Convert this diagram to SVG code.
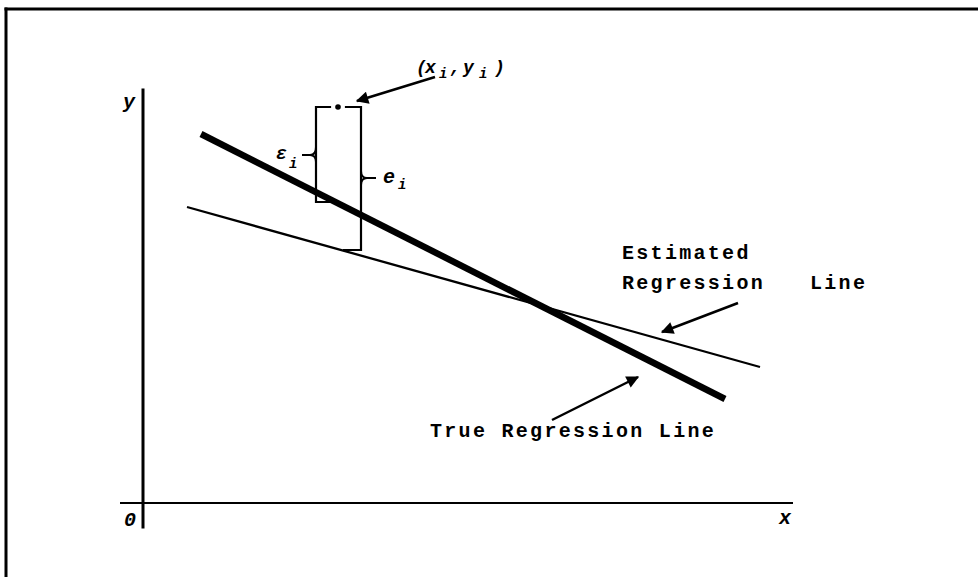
<svg xmlns="http://www.w3.org/2000/svg" width="978" height="577" viewBox="0 0 978 577">
<defs>
<style>
.lbl{font-family:"Liberation Mono","Courier New",monospace;font-weight:bold;font-size:20px;letter-spacing:2.3px;fill:#000}
.math{font-family:"Liberation Mono","Courier New",monospace;font-weight:bold;font-style:italic;fill:#000}
.ln{stroke:#000;fill:none;stroke-linecap:square}
.arr{stroke:#000;stroke-width:2.5;fill:none;marker-end:url(#ah)}
</style>
<marker id="ah" viewBox="0 0 10 10" refX="9" refY="5" markerWidth="5.5" markerHeight="5" orient="auto" markerUnits="strokeWidth">
<path d="M0,0 L10,5 L0,10 z" fill="#000"/>
</marker>
</defs>
<rect width="978" height="577" fill="#fff"/>
<g id="frame">
<line class="ln" x1="6" y1="9" x2="978" y2="9" stroke-width="3"/>
<line class="ln" x1="6" y1="9" x2="6" y2="577" stroke-width="3"/>
</g>
<g id="axes">
<line class="ln" x1="143" y1="90" x2="143" y2="527" stroke-width="3"/>
<line class="ln" x1="121" y1="503" x2="792" y2="503" stroke-width="2"/>
<text class="math" x="123" y="108" font-size="20">y</text>
<text class="math" x="124" y="526" font-size="20">0</text>
<text class="math" x="779" y="524" font-size="20">x</text>
</g>
<g id="true-line">
<line x1="201" y1="134" x2="725" y2="399" stroke="#000" stroke-width="6.5"/>
</g>
<g id="estimated-line">
<line x1="187" y1="207" x2="760" y2="367" stroke="#000" stroke-width="2.3"/>
</g>
<g id="point">
<circle cx="338" cy="107" r="2.8" fill="#000"/>
<text class="math" font-size="18" y="73"><tspan x="416">(</tspan><tspan x="425">x</tspan><tspan x="439" dy="5" font-size="14">i</tspan><tspan x="450" dy="-5">,</tspan><tspan x="463">y</tspan><tspan x="479" dy="5" font-size="14">i</tspan><tspan x="494" dy="-5">)</tspan></text>
</g>
<g id="epsilon-bracket">
<path class="ln" stroke-width="2.2" d="M330,107 H316 V202 H330"/>
<path class="ln" stroke-width="2" d="M316,148 Q316,155 310,155 H303 M310,155 Q316,155 316,162"/>
<text class="math" font-size="18" x="276" y="159">ε</text>
<text class="math" font-size="14" x="289" y="168">i</text>
</g>
<g id="e-bracket">
<path class="ln" stroke-width="2.2" d="M346,107 H361 V250 H344"/>
<path class="ln" stroke-width="2" d="M361,171 Q361,178 367,178 H375 M367,178 Q361,178 361,185"/>
<text class="math" font-size="20" x="383" y="183">e</text>
<text class="math" font-size="14" x="398" y="189">i</text>
</g>
<g id="labels">
<text class="lbl" x="622" y="259">Estimated</text>
<text class="lbl" x="622" y="289">Regression <tspan x="810">Line</tspan></text>
<text class="lbl" x="430" y="437" letter-spacing="1.8">True Regression Line</text>
</g>
<g id="connectors">
<line class="arr" x1="435" y1="77" x2="357" y2="101"/>
<line class="arr" x1="738" y1="303" x2="662" y2="332"/>
<line class="arr" x1="552" y1="420" x2="638" y2="377"/>
</g>
</svg>
